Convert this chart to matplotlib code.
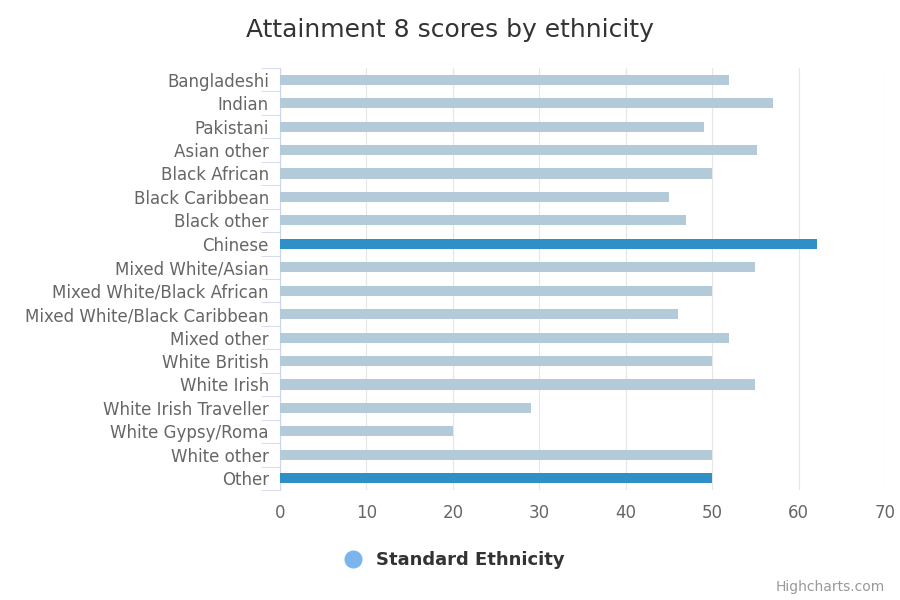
import matplotlib.pyplot as plt
from matplotlib.lines import Line2D

categories = ["Bangladeshi", "Indian", "Pakistani", "Asian other", "Black African",
              "Black Caribbean", "Black other", "Chinese", "Mixed White/Asian",
              "Mixed White/Black African", "Mixed White/Black Caribbean", "Mixed other",
              "White British", "White Irish", "White Irish Traveller", "White Gypsy/Roma",
              "White other", "Other"]
scores = [52, 57, 49, 55.2, 50, 45, 47, 62.1, 55, 50, 46.1, 52, 50, 55, 29, 20, 50, 50]
highlight = ["Chinese", "Other"]
xticks = [0, 10, 20, 30, 40, 50, 60, 70]

fig = plt.figure(figsize=(9, 6), dpi=100)
ax = fig.add_axes([280 / 900, 1 - 490 / 600, 605 / 900, 422 / 600])

colors = ["#2f8fc6" if c in highlight else "#b3cad8" for c in categories]
y = list(range(len(categories)))
ax.barh(y, scores, height=0.43, color=colors, zorder=3)
ax.set_ylim(len(categories) - 0.5, -0.5)
ax.set_xlim(0, 70)
ax.set_xticks(xticks)
ax.set_yticks(y)
ax.set_yticklabels(categories)
ax.tick_params(axis="x", length=0, labelsize=12, colors="#666666", pad=10)
ax.tick_params(axis="y", length=14, color="#ccd6eb", labelsize=12, labelcolor="#666666", pad=8)
ax.set_yticks([i - 0.5 for i in range(len(categories) + 1)], minor=True)
ax.tick_params(axis="y", which="minor", length=14, color="#ccd6eb")
ax.tick_params(axis="y", which="major", length=0)
ax.grid(axis="x", color="#e6e6e6", zorder=0)
for s in ["top", "right", "bottom"]:
    ax.spines[s].set_visible(False)
ax.spines["left"].set_color("#ccd6eb")

fig.suptitle("Attainment 8 scores by ethnicity", y=0.97, fontsize=18, color="#333333")
handle = Line2D([], [], marker="o", linestyle="", markersize=12, color="#7cb5ec")
fig.legend([handle], ["Standard Ethnicity"], loc="center", bbox_to_anchor=(0.5, 1 - 560 / 600),
           frameon=False, prop={"weight": "bold", "size": 13}, labelcolor="#333333",
           handletextpad=0.3)
fig.text(0.983, 0.01, "Highcharts.com", ha="right", va="bottom", fontsize=10, color="#999999")
fig.savefig("out.png")
